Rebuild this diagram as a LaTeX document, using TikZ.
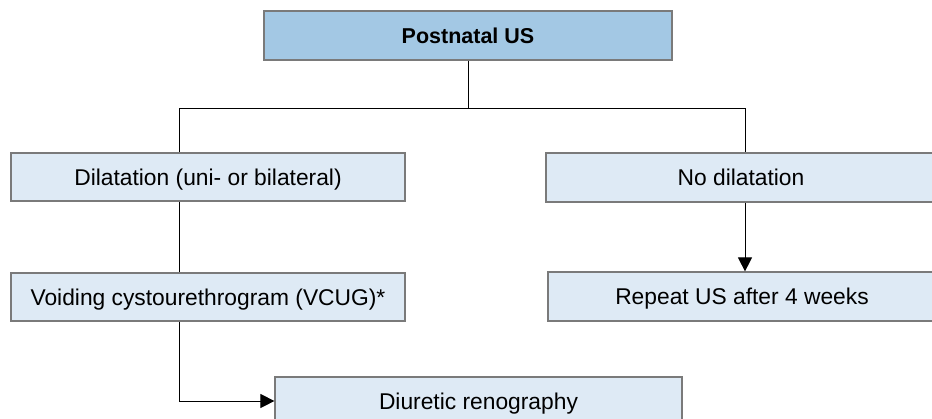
\documentclass[tikz,border=0pt]{standalone}
\usepackage{fontspec}
\setmainfont{Liberation Sans}
\usetikzlibrary{arrows.meta}
\definecolor{topfill}{HTML}{A3C8E4}
\definecolor{boxfill}{HTML}{DEEAF5}
\definecolor{boxline}{HTML}{7A7A7A}
\tikzset{
  box/.style={draw=boxline, line width=1.2pt, fill=boxfill, inner sep=0pt,
    text height=17pt, text depth=1pt,
    font=\fontsize{22.8}{26}\selectfont, text=black},
  topbox/.style={box, fill=topfill, text height=16pt, text depth=1pt,
    font=\fontsize{21.5}{26}\selectfont\bfseries},
  conn/.style={draw=black, line width=1pt},
  arr/.style={conn, -{Triangle[width=14pt,length=14pt]}},
}
\begin{document}
\begin{tikzpicture}[x=1pt,y=-1pt]
\useasboundingbox (0,0) rectangle (932,418);
\clip (0,0) rectangle (932,418);
\node[topbox, minimum width=408pt, minimum height=49pt] (top) at (468,35.5) {Postnatal US};
\node[box, minimum width=394pt, minimum height=48pt] (dil) at (208,177) {Dilatation (uni- or bilateral)};
\node[box, minimum width=390pt, minimum height=49pt] (nodil) at (741,177.5) {No dilatation};
\node[box, minimum width=394pt, minimum height=48pt] (vcug) at (208,297) {Voiding cystourethrogram (VCUG)*};
\node[box, minimum width=388pt, minimum height=49pt] (rep) at (742,296.5) {Repeat US after 4 weeks};
\node[box, minimum width=407pt, minimum height=48pt] (diur) at (478.5,401) {Diuretic renography};
\coordinate (jl) at (179,108);
\coordinate (jr) at (745,108);
\coordinate (vb) at (179,401);
\draw[conn] (top.south) -- (top.south |- jl);
\draw[conn] (jl) -- (jr);
\draw[conn] (jl) -- (jl |- dil.north);
\draw[conn] (jr) -- (jr |- nodil.north);
\draw[conn] (jl |- dil.south) -- (jl |- vcug.north);
\draw[arr] (jr |- nodil.south) -- (jr |- rep.north);
\draw[conn] (jl |- vcug.south) -- (vb);
\draw[arr] (vb) -- (diur.west);
\end{tikzpicture}
\end{document}
